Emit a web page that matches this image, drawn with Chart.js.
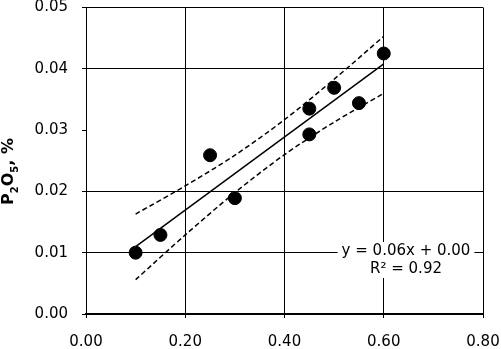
<!DOCTYPE html>
<html>
<head>
<meta charset="utf-8">
<script src="https://cdn.jsdelivr.net/npm/chart.js@4.4.1/dist/chart.umd.min.js"></script>
<style>
  html, body { margin: 0; padding: 0; background: #fff; }
  #wrap { width: 501px; height: 349px; }
</style>
</head>
<body>
<div id="wrap"><canvas id="chart_p2o5"></canvas></div>
<script>
// measured points
const xValues = [0.10, 0.15, 0.25, 0.30, 0.45, 0.45, 0.50, 0.55, 0.60];
const yValues = [0.0100, 0.0129, 0.0259, 0.0189, 0.0335, 0.0293, 0.0369, 0.0344, 0.0425];

// trend line ends
const trendX = [0.10, 0.60];
const trendY = [0.0110, 0.0408];

// dashed band
const bandX = [0.10, 0.20, 0.30, 0.40, 0.50, 0.60];
const bandUpper = [0.0163, 0.0209, 0.0259, 0.0317, 0.0383, 0.0453];
const bandLower = [0.0056, 0.0129, 0.0198, 0.0260, 0.0313, 0.0360];

const eqLines = ["y = 0.06x + 0.00", "R\u00b2 = 0.92"];

const FONT = '"DejaVu Sans", sans-serif';

function pts(xs, ys) {
  return xs.map((x, i) => ({ x: x, y: ys[i] }));
}

// y axis title with real subscripts
const yTitlePlugin = {
  id: "yTitle",
  afterDraw(chart) {
    const c = chart.ctx;
    c.save();
    c.translate(13, 205);
    c.rotate(-Math.PI / 2);
    c.fillStyle = "#000";
    c.textBaseline = "alphabetic";
    let x = 0;
    const parts = [["P", 16, 0], ["2", 10, 5], ["O", 16, 0], ["5", 10, 5], [", %", 16, 0]];
    parts.forEach(([t, s, dy]) => {
      c.font = "bold " + s + "px " + FONT;
      c.fillText(t, x, dy);
      x += c.measureText(t).width;
    });
    c.restore();
  },
};

// equation box
const eqPlugin = {
  id: "eqBox",
  afterDatasetsDraw(chart) {
    const c = chart.ctx;
    c.save();
    c.font = "15px " + FONT;
    const w = Math.max(...eqLines.map((t) => c.measureText(t).width));
    const cx = 406, cy = 251;
    c.fillStyle = "#fff";
    c.fillRect(cx - w / 2 - 4, cy - 9, w + 8, 36);
    c.fillStyle = "#000";
    c.textAlign = "center";
    c.textBaseline = "middle";
    eqLines.forEach((t, i) => c.fillText(t, cx, cy + i * 18));
    c.restore();
  },
};

const ctx = document.getElementById("chart_p2o5").getContext("2d");

const myChart = new Chart(ctx, {
  type: "scatter",
  data: {
    datasets: [
      {
        data: pts(bandX, bandUpper),
        showLine: true,
        borderColor: "#000",
        borderWidth: 1.5,
        borderDash: [5, 3],
        pointRadius: 0,
        tension: 0.3,
      },
      {
        data: pts(bandX, bandLower),
        showLine: true,
        borderColor: "#000",
        borderWidth: 1.5,
        borderDash: [5, 3],
        pointRadius: 0,
        tension: 0.3,
      },
      {
        data: pts(trendX, trendY),
        showLine: true,
        borderColor: "#000",
        borderWidth: 1.5,
        pointRadius: 0,
      },
      {
        data: pts(xValues, yValues),
        backgroundColor: "#000",
        borderColor: "#000",
        pointRadius: 6.5,
        pointHoverRadius: 6.5,
      },
    ],
  },
  options: {
    animation: false,
    responsive: true,
    maintainAspectRatio: false,
    layout: {
      padding: { left: 0, right: 18, top: 6, bottom: 0 },
    },
    plugins: {
      legend: { display: false },
      tooltip: { enabled: false },
    },
    scales: {
      x: {
        type: "linear",
        min: 0,
        max: 0.8,
        border: { display: true, color: "#000", width: 2 },
        grid: { color: "#000", lineWidth: 1, tickLength: 4, tickColor: "#000" },
        ticks: {
          stepSize: 0.2,
          padding: 15,
          color: "#000",
          font: { family: FONT, size: 15 },
          callback: (v) => v.toFixed(2),
        },
        afterFit(scale) {
          scale.height = 35;
          scale.paddingLeft = 0;
          scale.paddingRight = 0;
        },
      },
      y: {
        type: "linear",
        min: 0,
        max: 0.05,
        border: { display: true, color: "#000", width: 1 },
        grid: {
          // the 0.03 line is missing in the original
          color: (c) => (c.tick && Math.abs(c.tick.value - 0.03) < 1e-6 ? "rgba(0,0,0,0)" : "#000"),
          tickColor: "#000",
          lineWidth: 1,
          tickLength: 4,
        },
        ticks: {
          stepSize: 0.01,
          padding: 14,
          color: "#000",
          font: { family: FONT, size: 15 },
          callback: (v) => v.toFixed(2),
        },
        afterFit(scale) {
          scale.width = 86;
          scale.paddingTop = 0;
          scale.paddingBottom = 0;
        },
      },
    },
  },
  plugins: [yTitlePlugin, eqPlugin],
});
</script>
</body>
</html>
